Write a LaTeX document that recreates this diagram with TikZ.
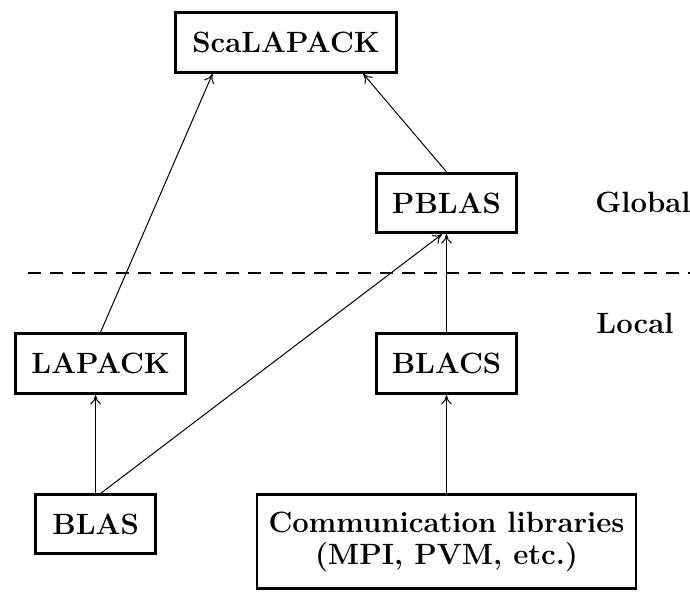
\documentclass[tikz,border=0pt]{standalone}
\usepackage{tikz}
\usetikzlibrary{arrows.meta,positioning}

\begin{document}
\begin{tikzpicture}[x=0.75pt,y=-0.75pt,
box/.style={draw,line width=2.2pt,align=center,minimum height=44.5pt,inner sep=0pt,font=\fontsize{22}{24}\selectfont\bfseries},
lbl/.style={font=\fontsize{22}{24}\selectfont\bfseries},
arrow/.style={-{To[length=7pt,width=8pt]},line width=0.75pt}
]
\useasboundingbox (0,0) rectangle (690,592);
\node[box,minimum width=165.75pt] (scalapack) at (286,42.5) {ScaLAPACK};
\node[box,minimum width=105pt] (pblas) at (446.5,203) {PBLAS};
\node[box,minimum width=105pt,minimum height=45pt,below=73.5pt of pblas] (blacs) {BLACS};
\node[box,minimum width=127.5pt,minimum height=45pt,left=141pt of blacs] (lapack) {LAPACK};
\node[box,minimum width=90pt,below=73.5pt of lapack,xshift=-3.75pt] (blas) {BLAS};
\node[box,minimum width=284.25pt,minimum height=70.5pt,below=73.5pt of blacs] (comm) {Communication libraries\\(MPI, PVM, etc.)};
\node[lbl] (global) at (643,202) {Global};
\node[lbl] (local) at (635,323) {Local};
% global / local split
\draw[line width=2.2pt,dash pattern=on 9.75pt off 6.75pt] (28,273) -- (690,273);
\draw[arrow] (lapack.north) -- (scalapack.203);
\draw[arrow] (pblas.north) -- (scalapack.338);
\draw[arrow] (blacs.north) -- (pblas.south);
\draw[arrow] (blas.80) -- (pblas.262);
\draw[arrow] (blas.north) -- (blas.north |- lapack.south);
\draw[arrow] (comm.north) -- (blacs.south);
\end{tikzpicture}
\end{document}
